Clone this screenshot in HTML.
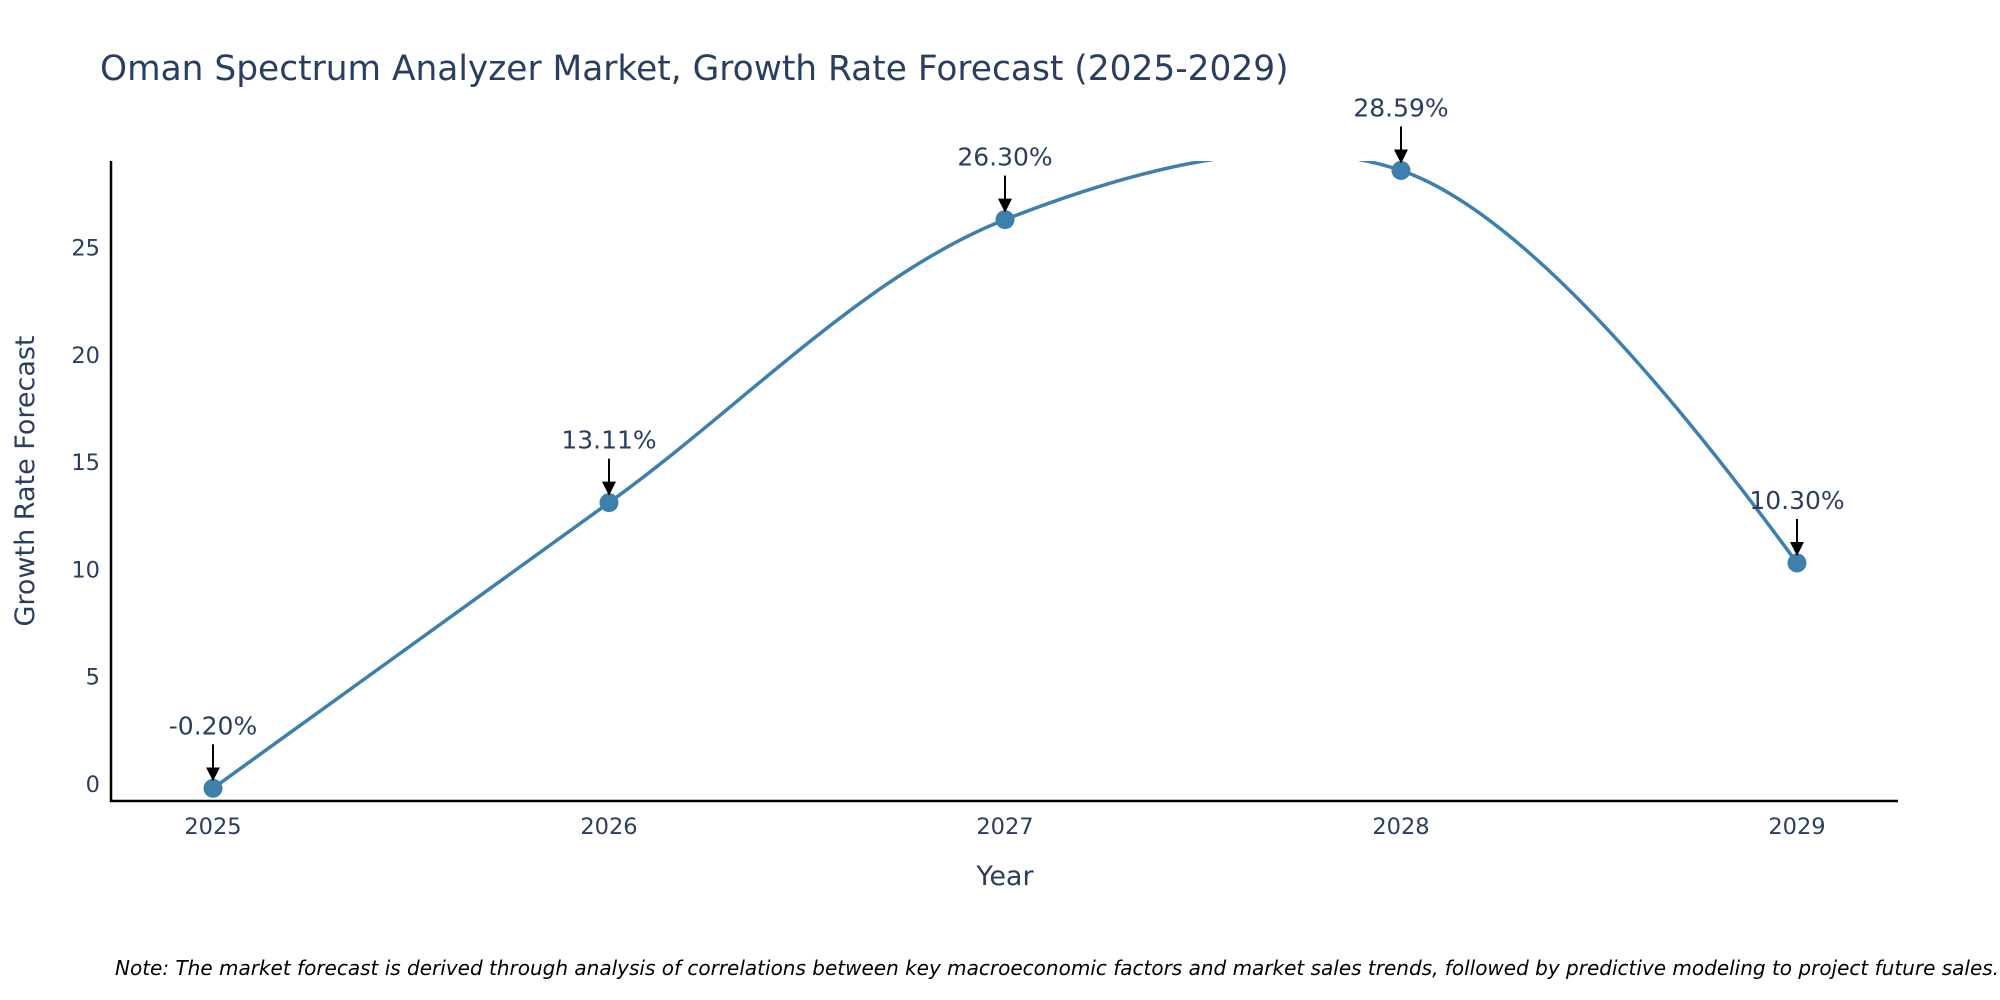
<!DOCTYPE html>
<html><head><meta charset="utf-8"><style>
body{margin:0;background:#fff;}
svg{display:block;font-family:"DejaVu Sans","Liberation Sans",sans-serif;}
</style></head><body>
<svg id="chart" width="2000" height="1000" viewBox="0 0 2000 1000">
<defs>
<clipPath id="plotclip"><rect x="111" y="161" width="1787" height="640"/></clipPath>
<marker id="arrowhead" markerWidth="7" markerHeight="7" refX="6" refY="3.5" orient="auto" markerUnits="strokeWidth"><path d="M0,0 L7,3.5 L0,7 z" fill="#000"/></marker>
</defs>
<text x="100" y="80" font-size="34.4" fill="#2a3f5f">Oman Spectrum Analyzer Market, Growth Rate Forecast (2025-2029)</text>
<g id="yticks"></g>
<g id="xticks"></g>
<line x1="111" y1="161" x2="111" y2="802" stroke="#000" stroke-width="2.5"/>
<line x1="110" y1="801" x2="1898" y2="801" stroke="#000" stroke-width="2.5"/>
<g clip-path="url(#plotclip)"><path id="line" fill="none" stroke="#3d7fad" stroke-width="3.5"/></g>
<g id="points"></g>
<g id="annots"></g>
<text x="1005" y="885" font-size="27" fill="#2a3f5f" text-anchor="middle">Year</text>
<text transform="translate(34,481) rotate(-90)" font-size="27" fill="#2a3f5f" text-anchor="middle">Growth Rate Forecast</text>
<text x="115" y="975" font-size="20" font-style="italic" fill="#000">Note: The market forecast is derived through analysis of correlations between key macroeconomic factors and market sales trends, followed by predictive modeling to project future sales.</text>
</svg>
<script>
const years=[2025,2026,2027,2028,2029];
const values=[-0.20,13.11,26.30,28.59,10.30];
const labels=["-0.20%","13.11%","26.30%","28.59%","10.30%"];
const yTicks=[0,5,10,15,20,25];
const NS="http://www.w3.org/2000/svg";
function xs(v){return 213+(v-2025)*396;}
function ys(v){return 784-v*21.46;}
function mk(tag,attrs,parent){const e=document.createElementNS(NS,tag);for(const k in attrs)e.setAttribute(k,attrs[k]);parent.appendChild(e);return e;}
const yt=document.getElementById('yticks');
yTicks.forEach(t=>{const e=mk('text',{x:100,y:ys(t)+8,'font-size':22.5,fill:'#2a3f5f','text-anchor':'end'},yt);e.textContent=t;

});
const xt=document.getElementById('xticks');
years.forEach(y=>{const e=mk('text',{x:xs(y),y:834,'font-size':22.5,fill:'#2a3f5f','text-anchor':'middle'},xt);e.textContent=y;

});
const P=years.map((y,i)=>[xs(y),ys(values[i])]);
function makeTangent(a,b,c,sm){
 const d1x=a[0]-b[0],d1y=a[1]-b[1],d2x=c[0]-b[0],d2y=c[1]-b[1];
 const d1a=Math.pow(d1x*d1x+d1y*d1y,0.25),d2a=Math.pow(d2x*d2x+d2y*d2y,0.25);
 const nx=(d2a*d2a*d1x-d1a*d1a*d2x)*sm,ny=(d2a*d2a*d1y-d1a*d1a*d2y)*sm;
 const den1=3*d2a*(d1a+d2a),den2=3*d1a*(d1a+d2a);
 return [[b[0]+nx/den1,b[1]+ny/den1],[b[0]-nx/den2,b[1]-ny/den2]];
}
const T=[];
for(let i=1;i<P.length-1;i++)T.push(makeTangent(P[i-1],P[i],P[i+1],1));
let d='M'+P[0]+' Q'+T[0][0]+' '+P[1];
for(let i=1;i<P.length-2;i++)d+=' C'+T[i-1][1]+' '+T[i][0]+' '+P[i+1];
d+=' Q'+T[T.length-1][1]+' '+P[P.length-1];
document.getElementById('line').setAttribute('d',d);
const pts=document.getElementById('points'),an=document.getElementById('annots');
P.forEach((p,i)=>{
 const c=mk('circle',{cx:p[0],cy:p[1],r:9.5,fill:'#3d7fad'},pts);
 
 
 const l=mk('line',{x1:p[0],y1:p[1]-44,x2:p[0],y2:p[1]-9,stroke:'#000','stroke-width':2,'marker-end':'url(#arrowhead)'},an);
 
 
 const t=mk('text',{x:p[0],y:p[1]-54,'font-size':25,fill:'#2a3f5f','text-anchor':'middle'},an);
 t.textContent=labels[i];
 
 
});
</script>
</body></html>
